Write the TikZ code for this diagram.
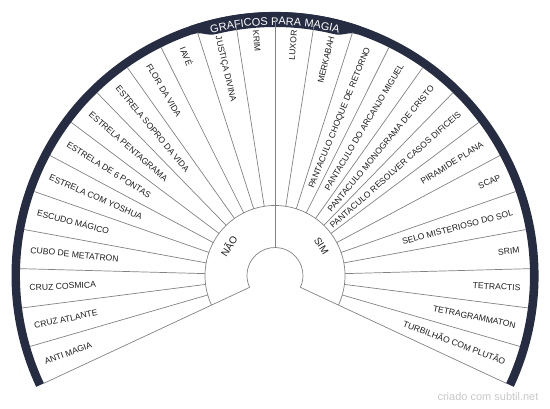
\documentclass[tikz,border=0pt]{standalone}
\usepackage{fontspec}
\setmainfont{Liberation Sans}
\usetikzlibrary{decorations.text}
\definecolor{navy}{RGB}{38,45,66}
\definecolor{linegray}{RGB}{130,130,130}
\definecolor{wmgray}{RGB}{200,200,200}
\definecolor{txt}{RGB}{30,30,30}
\begin{document}
\begin{tikzpicture}[x=1pt,y=1pt,
  sep/.style={draw=linegray,line width=0.7pt},
  lbl/.style={font=\fontsize{8.6}{9}\selectfont, inner sep=0pt, text height=6.2pt, text depth=0pt, text=txt},
  midlbl/.style={font=\fontsize{10}{10}\selectfont, inner sep=0pt, text=txt}]
\useasboundingbox (0,0) rectangle (550,408);
\begin{scope}[shift={(275,132.5)}]
  \def\s{8.846154}
  % outer band
  \fill[navy] (-25:263.5) arc[start angle=-25,end angle=205,radius=263.5]
     -- (205:255) arc[start angle=205,end angle=-25,radius=255] -- cycle;
  % title backing
  \fill[navy] (109:255) .. controls (106.5:255) and (106:248.5) .. (103.5:248.5)
     arc[start angle=103.5,end angle=76.5,radius=248.5]
     .. controls (74:248.5) and (73.5:255) .. (71:255)
     -- (71:263.5) arc[start angle=71,end angle=109,radius=263.5] -- cycle;
  % title
  \path[decorate,decoration={text along path,text color=white,
     text={|\fontsize{11}{11}\selectfont|GRAFICOS PARA MAGIA},text align=center}]
     (106:250.5) arc[start angle=106,end angle=74,radius=250.5];
  % rings
  \draw[sep] (-25:28) arc[start angle=-25,end angle=205,radius=28];
  \draw[sep] (-25:70) arc[start angle=-25,end angle=205,radius=70];
  \foreach \a/\n in {-25/r,90/m,205/l} {
    \coordinate (h\n) at (\a:28);
    \coordinate (o\n) at (\a:255);
    \draw[sep] (h\n) -- (o\n);
  }
  \foreach \k in {1,...,25} {
    \coordinate (in\k) at ({-25+\k*\s}:70);
    \coordinate (out\k) at ({-25+\k*\s}:255);
    \draw[sep] (in\k) -- (out\k);
  }
  % left labels
  \foreach \t [count=\i from 0] in {ANTI MAGIA,CRUZ ATLANTE,CRUZ COSMICA,CUBO DE METATRON,ESCUDO MÁGICO,ESTRELA COM YOSHUA,ESTRELA DE 6 PONTAS,ESTRELA PENTAGRAMA,ESTRELA SOPRO DA VIDA,FLOR DA VIDA,IAVÉ,JUSTIÇA DIVINA,KRIM} {
    \pgfmathsetmacro\ang{205-(\i+0.5)*\s}
    \pgfmathsetmacro\rot{\ang-180}
    \node[lbl,anchor=west,rotate=\rot] (L\i) at (\ang:246) {\t};
  }
  % right labels
  \foreach \t [count=\i from 0] in {LUXOR,MERKABAH,PANTACULO CHOQUE DE RETORNO,PANTACULO DO ARCANJO MIGUEL,PANTACULO MONOGRAMA DE CRISTO,PANTACULO RESOLVER CASOS DIFICEIS,PIRAMIDE PLANA,SCAP,SELO MISTERIOSO DO SOL,SRIM,TETRACTIS,TETRAGRAMMATON,TURBILHÃO COM PLUTÃO} {
    \pgfmathsetmacro\ang{90-(\i+0.5)*\s}
    \node[lbl,anchor=east,rotate=\ang] (R\i) at (\ang:246) {\t};
  }
  \node[midlbl,rotate=57.5] (nao) at (147.5:55) {NÃO};
  \node[midlbl,rotate=-57.5] (sim) at (32.5:55) {SIM};
\end{scope}
\node[font=\fontsize{11}{11}\selectfont,text=wmgray,inner sep=0pt] (wm) at (488,11.5) {criado com subtil.net};
\end{tikzpicture}
\end{document}
